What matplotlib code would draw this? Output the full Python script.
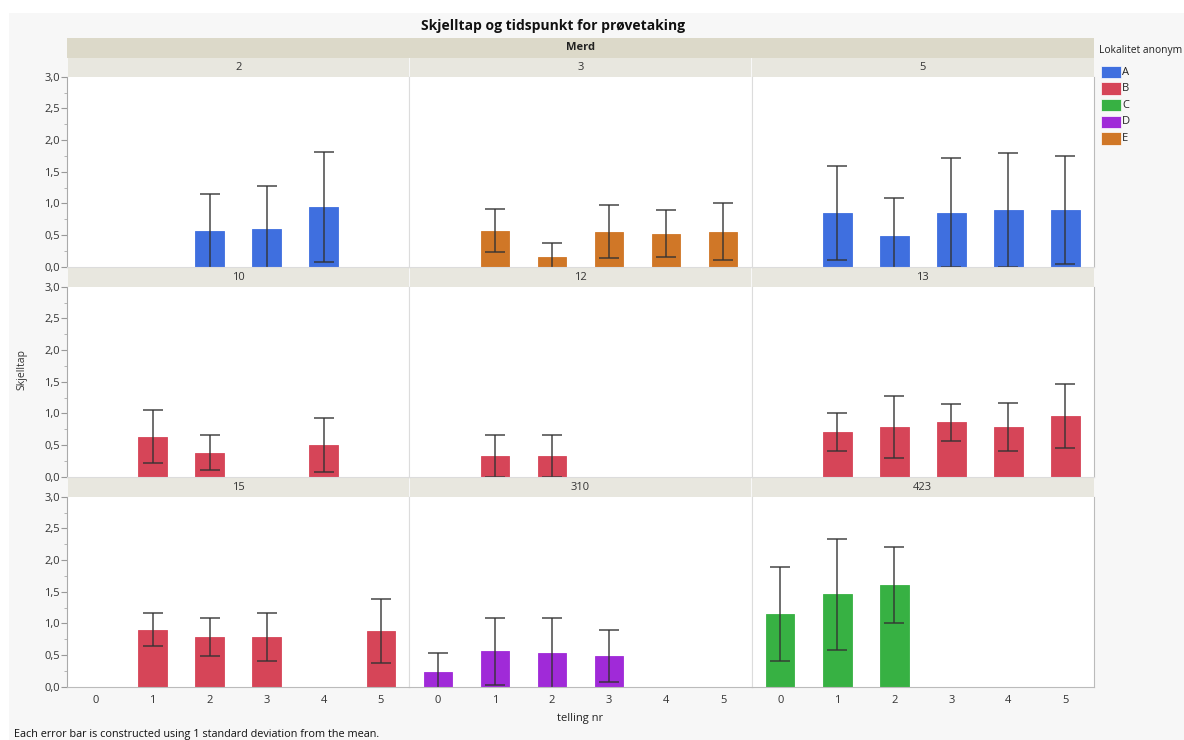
import matplotlib
matplotlib.use('Agg')
import matplotlib.pyplot as plt
from matplotlib.patches import Rectangle

plt.rcParams['font.family'] = ['Open Sans', 'DejaVu Sans']

# Data (lest av figuren)
merd = ['2', '3', '5', '10', '12', '13', '15', '310', '423']
lokalitet = ['A', 'E', 'A', 'B', 'B', 'B', 'B', 'D', 'C']
telling_ticks = [0, 1, 2, 3, 4, 5]

telling = [
    [2, 3, 4],
    [1, 2, 3, 4, 5],
    [1, 2, 3, 4, 5],
    [1, 2, 4],
    [1, 2],
    [1, 2, 3, 4, 5],
    [1, 2, 3, 5],
    [0, 1, 2, 3],
    [0, 1, 2],
]
mean = [
    [0.56, 0.60, 0.94],
    [0.57, 0.15, 0.55, 0.52, 0.55],
    [0.85, 0.49, 0.85, 0.90, 0.90],
    [0.63, 0.38, 0.50],
    [0.33, 0.33],
    [0.70, 0.78, 0.86, 0.78, 0.96],
    [0.90, 0.78, 0.78, 0.88],
    [0.24, 0.56, 0.53, 0.48],
    [1.15, 1.46, 1.60],
]
sd = [
    [0.59, 0.67, 0.87],
    [0.34, 0.23, 0.42, 0.37, 0.45],
    [0.74, 0.60, 0.86, 0.90, 0.85],
    [0.42, 0.28, 0.43],
    [0.33, 0.33],
    [0.30, 0.49, 0.29, 0.38, 0.51],
    [0.26, 0.30, 0.38, 0.51],
    [0.29, 0.53, 0.56, 0.41],
    [0.74, 0.88, 0.60],
]

lok_names = ['A', 'B', 'C', 'D', 'E']
lok_colors = ['#3f6fdf', '#d64558', '#37b143', '#a02ad8', '#d07727']
farge = dict(zip(lok_names, lok_colors))

W, H = 1184, 740
fig = plt.figure(figsize=(W / 100, H / 100), dpi=100)


def rect(x0, y0, x1, y1):
    # piksler -> figurkoordinater
    return [x0 / W, 1 - y1 / H, (x1 - x0) / W, (y1 - y0) / H]


# bakgrunn
fig.patches.append(Rectangle((9 / W, 0), 1, 1 - 13 / H, transform=fig.transFigure,
                             facecolor='#f7f7f7', edgecolor='none', zorder=-10))

fig.text(553 / W, 1 - 26 / H, 'Skjelltap og tidspunkt for prøvetaking',
         ha='center', va='center', fontsize=10, fontweight='bold', color='#111111')

# Merd-bånd
col_x = [67, 409.3, 751.7, 1094]
fig.patches.append(Rectangle((67 / W, 1 - 57.5 / H), (1094 - 67) / W, 19.5 / H,
                             transform=fig.transFigure, facecolor='#dcd9c9',
                             edgecolor='none', zorder=-5))
fig.text((67 + 1094) / 2 / W, 1 - 47.5 / H, 'Merd', ha='center', va='center',
         fontsize=8, fontweight='bold', color='#222222')

row_top = [76.7, 286.7, 496.7]
plot_h = 190

for i in range(9):
    r, c = divmod(i, 3)
    x0, x1 = col_x[c], col_x[c + 1]
    y0 = row_top[r]

    # strip med merd-nummer
    fig.patches.append(Rectangle((x0 / W + 0.5 / W, 1 - y0 / H), (x1 - x0 - 1) / W, 19 / H,
                                 transform=fig.transFigure, facecolor='#e8e7df',
                                 edgecolor='none', zorder=-5))
    fig.text((x0 + x1) / 2 / W, 1 - (y0 - 9.5) / H, merd[i], ha='center', va='center',
             fontsize=8, color='#333333')

    ax = fig.add_axes(rect(x0, y0, x1, y0 + plot_h))
    ax.set_facecolor('white')
    col = farge[lokalitet[i]]
    ax.bar(telling[i], mean[i], width=0.5, color=col, edgecolor=col, linewidth=0.6)
    ax.errorbar(telling[i], mean[i], yerr=sd[i], fmt='none', ecolor='#333333',
                elinewidth=1.1, capsize=7, capthick=1.1, alpha=0.9)

    ax.set_xlim(-0.5, 5.5)
    ax.set_ylim(0, 3.0)
    ax.set_xticks(telling_ticks)
    ax.set_yticks([0, 0.5, 1.0, 1.5, 2.0, 2.5, 3.0])
    ax.set_yticks([0.25, 0.75, 1.25, 1.75, 2.25, 2.75], minor=True)

    for s in ax.spines.values():
        s.set_color('#dcdcdc')
        s.set_linewidth(0.8)
    ax.spines['top'].set_visible(False)

    if c == 0:
        ax.spines['left'].set_color('#aaaaaa')
        ax.set_yticklabels([f'{v:.1f}'.replace('.', ',') for v in ax.get_yticks()])
        ax.tick_params(axis='y', which='major', length=4, color='#999999',
                       labelsize=8, labelcolor='#333333', pad=1)
        ax.tick_params(axis='y', which='minor', length=2.5, color='#aaaaaa')
    else:
        ax.tick_params(axis='y', which='both', length=0, labelleft=False)

    if c == 2:
        ax.spines['right'].set_color('#bbbbbb')

    if r == 2:
        ax.spines['bottom'].set_color('#bbbbbb')
        ax.tick_params(axis='x', length=0, labelsize=8, labelcolor='#333333', pad=6)
    else:
        ax.tick_params(axis='x', length=0, labelbottom=False)

fig.text(22 / W, 1 - 370 / H, 'Skjelltap', rotation=90, ha='center', va='center',
         fontsize=7.5, color='#333333')
fig.text(580 / W, 1 - 718 / H, 'telling nr', ha='center', va='center',
         fontsize=8, color='#222222')
fig.text(14 / W, 1 - 734 / H, 'Each error bar is constructed using 1 standard deviation from the mean.',
         ha='left', va='center', fontsize=7.8, color='#111111')

# legende
fig.text(1099 / W, 1 - 51 / H, 'Lokalitet anonym', ha='left', va='center',
         fontsize=7.4, color='#222222')
for k, navn in enumerate(lok_names):
    yt = 65.7 + k * 16.6
    fig.patches.append(Rectangle((1100.5 / W, 1 - (yt + 12.5) / H), 20 / W, 12.5 / H,
                                 transform=fig.transFigure, facecolor=lok_colors[k],
                                 edgecolor='white', linewidth=0.5))
    fig.text(1122 / W, 1 - (yt + 6.5) / H, navn, ha='left', va='center',
             fontsize=8, color='#222222')

fig.savefig('out.png', dpi=100)
